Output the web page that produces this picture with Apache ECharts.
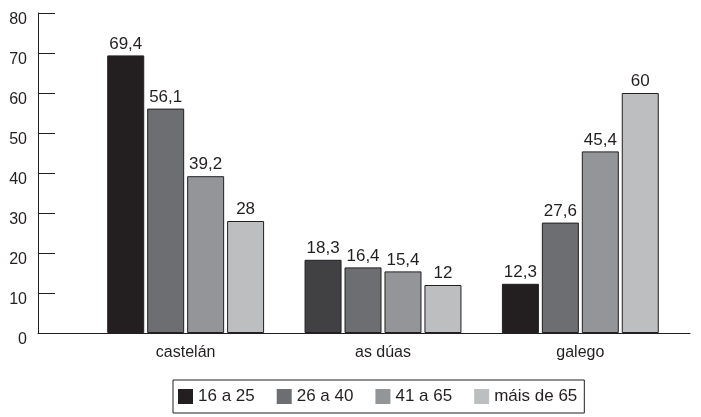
<!DOCTYPE html>
<html lang="gl">
  <head>
    <meta charset="utf-8" />
    <title>Lingua por idade</title>
    <script src="https://cdn.jsdelivr.net/npm/echarts@6.0.0/dist/echarts.min.js"></script>
    <style>
      html, body { margin: 0; padding: 0; background: #fff; }
      #main { width: 701px; height: 417px; }
    </style>
  </head>
  <body>
    <div id="main"></div>
    <script>
      // data
      var categories = ["castelán", "as dúas", "galego"];
      var groups = ["16 a 25", "26 a 40", "41 a 65", "máis de 65"];
      var age16to25 = [69.4, 18.3, 12.3];
      var age26to40 = [56.1, 16.4, 27.6];
      var age41to65 = [39.2, 15.4, 45.4];
      var age65plus = [28, 12, 60];

      var colors = ["#231f20", "#6d6e71", "#939598", "#bcbec0"];
      var font = "'Liberation Sans', Arial, sans-serif";

      var chart = echarts.init(document.getElementById("main"));

      function bar(name, values, color, idx) {
        return {
          name: name,
          type: "bar",
          xAxisIndex: 0,
          yAxisIndex: 0,
          barWidth: 37,
          barGap: "8%",
          data: values.map(function (v, i) {
            // the middle dark bar is a bit lighter in the source
            if (idx === 0 && i === 1) {
              return { value: v, itemStyle: { color: "#414042" } };
            }
            return v;
          }),
          itemStyle: { color: color, borderColor: "#231f20", borderWidth: 1 },
          label: {
            show: true,
            position: "top",
            distance: 3,
            color: "#231f20",
            fontFamily: font,
            fontSize: 17,
            formatter: function (p) {
              return String(p.value).replace(".", ",");
            }
          }
        };
      }

      var option = {
        animation: false,
        backgroundColor: "#fff",
        color: colors,
        grid: [
          { left: 87, right: 22, top: 13, bottom: 84 },
          { left: 38, right: 11, top: 13, bottom: 84 }
        ],
        legend: {
          data: groups,
          left: 173,
          top: 380,
          icon: "rect",
          itemWidth: 15,
          itemHeight: 15,
          itemGap: 22,
          padding: [8, 7, 8, 5],
          borderColor: "#231f20",
          borderWidth: 1,
          itemStyle: { borderWidth: 0 },
          textStyle: { fontFamily: font, fontSize: 17, color: "#231f20" }
        },
        xAxis: [
          {
            type: "category",
            gridIndex: 0,
            data: categories,
            axisLine: { show: false },
            axisTick: { show: false },
            axisLabel: { fontFamily: font, fontSize: 16, color: "#231f20", margin: 12 }
          },
          {
            type: "value",
            gridIndex: 1,
            min: 0,
            max: 1,
            axisLine: { show: true, lineStyle: { color: "#231f20", width: 1 } },
            axisTick: { show: false },
            axisLabel: { show: false },
            splitLine: { show: false }
          }
        ],
        yAxis: [
          {
            type: "value",
            gridIndex: 0,
            min: 0,
            max: 80,
            interval: 10,
            show: false
          },
          {
            type: "value",
            gridIndex: 1,
            min: 0,
            max: 80,
            interval: 10,
            axisLine: { show: true, lineStyle: { color: "#231f20", width: 1 } },
            axisTick: { show: true, inside: true, length: 17, lineStyle: { color: "#231f20" } },
            axisLabel: {
              fontFamily: font,
              fontSize: 16,
              color: "#231f20",
              margin: 11,
              verticalAlign: "top",
              padding: [-1, 0, 0, 0]
            },
            splitLine: { show: false }
          }
        ],
        series: [
          bar(groups[0], age16to25, colors[0], 0),
          bar(groups[1], age26to40, colors[1], 1),
          bar(groups[2], age41to65, colors[2], 2),
          bar(groups[3], age65plus, colors[3], 3)
        ]
      };

      chart.setOption(option);
    </script>
  </body>
</html>
